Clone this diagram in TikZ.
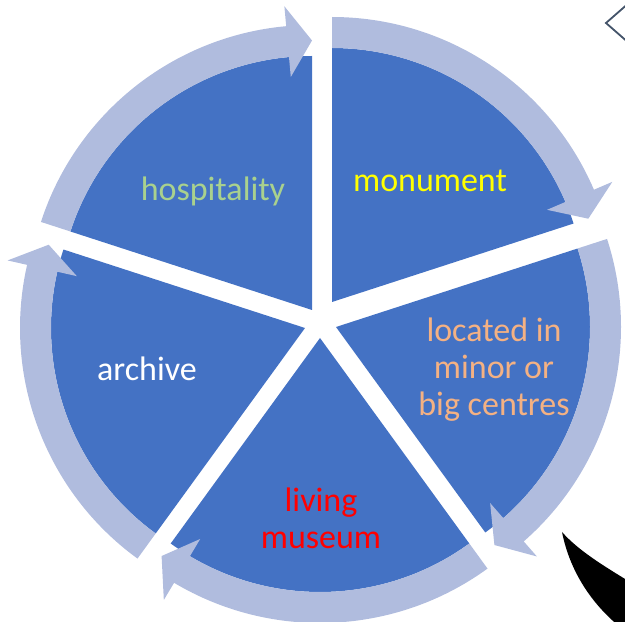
\documentclass[tikz,border=0pt]{standalone}
\usepackage{fontspec}
\setmainfont{Carlito}
\usepackage{xcolor}

\definecolor{segblue}{RGB}{68,114,196}
\definecolor{ringblue}{RGB}{176,188,222}
\definecolor{hospgreen}{RGB}{169,209,142}
\definecolor{monuyellow}{RGB}{255,255,0}
\definecolor{locpeach}{RGB}{244,177,131}
\definecolor{livred}{RGB}{255,0,0}
\definecolor{chevgrey}{RGB}{68,84,106}

\tikzset{
  segment/.style={fill=segblue},
  ringarrow/.style={fill=ringblue},
  seglabel/.style={font=\fontsize{34}{37}\selectfont, align=center, inner sep=0pt, anchor=base},
}

\begin{document}
\begin{tikzpicture}[x=1pt,y=1pt]
   \useasboundingbox (0,0) rectangle (625,622);
   \clip (0,0) rectangle (625,622);

   % tips of the five segments
   \coordinate (tipH) at (312,312);
   \coordinate (tipM) at (332,320);
   \coordinate (tipL) at (336,295);
   \coordinate (tipV) at (320,284);
   \coordinate (tipA) at (305,294);

   \foreach \t/\a in {tipH/162, tipM/90, tipL/18, tipV/-54, tipA/-126}
      \fill[segment, shift={(\t)}] (0,0) -- (\a:254)
         arc[start angle=\a, end angle=\a-72, radius=254pt] -- cycle;

   % circular arrows round the segments
   \foreach \t/\a in {tipH/162, tipM/90, tipL/18, tipV/-54, tipA/-126}{
      \pgfmathsetmacro\b{\a-72}
      \pgfmathsetmacro\c{\a-66.8}
      \fill[ringarrow, shift={(\t)}] (\a:254) -- (\a:285)
         arc[start angle=\a, end angle=\c, radius=285pt]
         -- (\c:305) -- (\b:269.5) -- (\c:234) -- (\c:254)
         arc[start angle=\c, end angle=\a, radius=254pt] -- cycle;
   }

   % base of a label = baseline of its last line
   \node[seglabel, text=hospgreen] (hosp) at (213,421) {hospitality};
   \node[seglabel, text=monuyellow] (monu) at (430,430) {monument};
   \node[seglabel, text=locpeach] (loc) at (494,206) {located in\\minor or\\big centres};
   \node[seglabel, text=white] (arch) at (147,241) {archive};
   \node[seglabel, text=livred] (liv) at (321,73) {living\\museum};

   % bits of other shapes cut by the page edge
   \draw[chevgrey, line width=1.8pt] (630,620) -- (606,599) -- (630,578);
   \fill[black] (562,90) .. controls (570,50) and (592,18) .. (620,-5)
      -- (640,-5) -- (640,34) .. controls (600,58) and (578,72) .. (562,90);
\end{tikzpicture}
\end{document}
